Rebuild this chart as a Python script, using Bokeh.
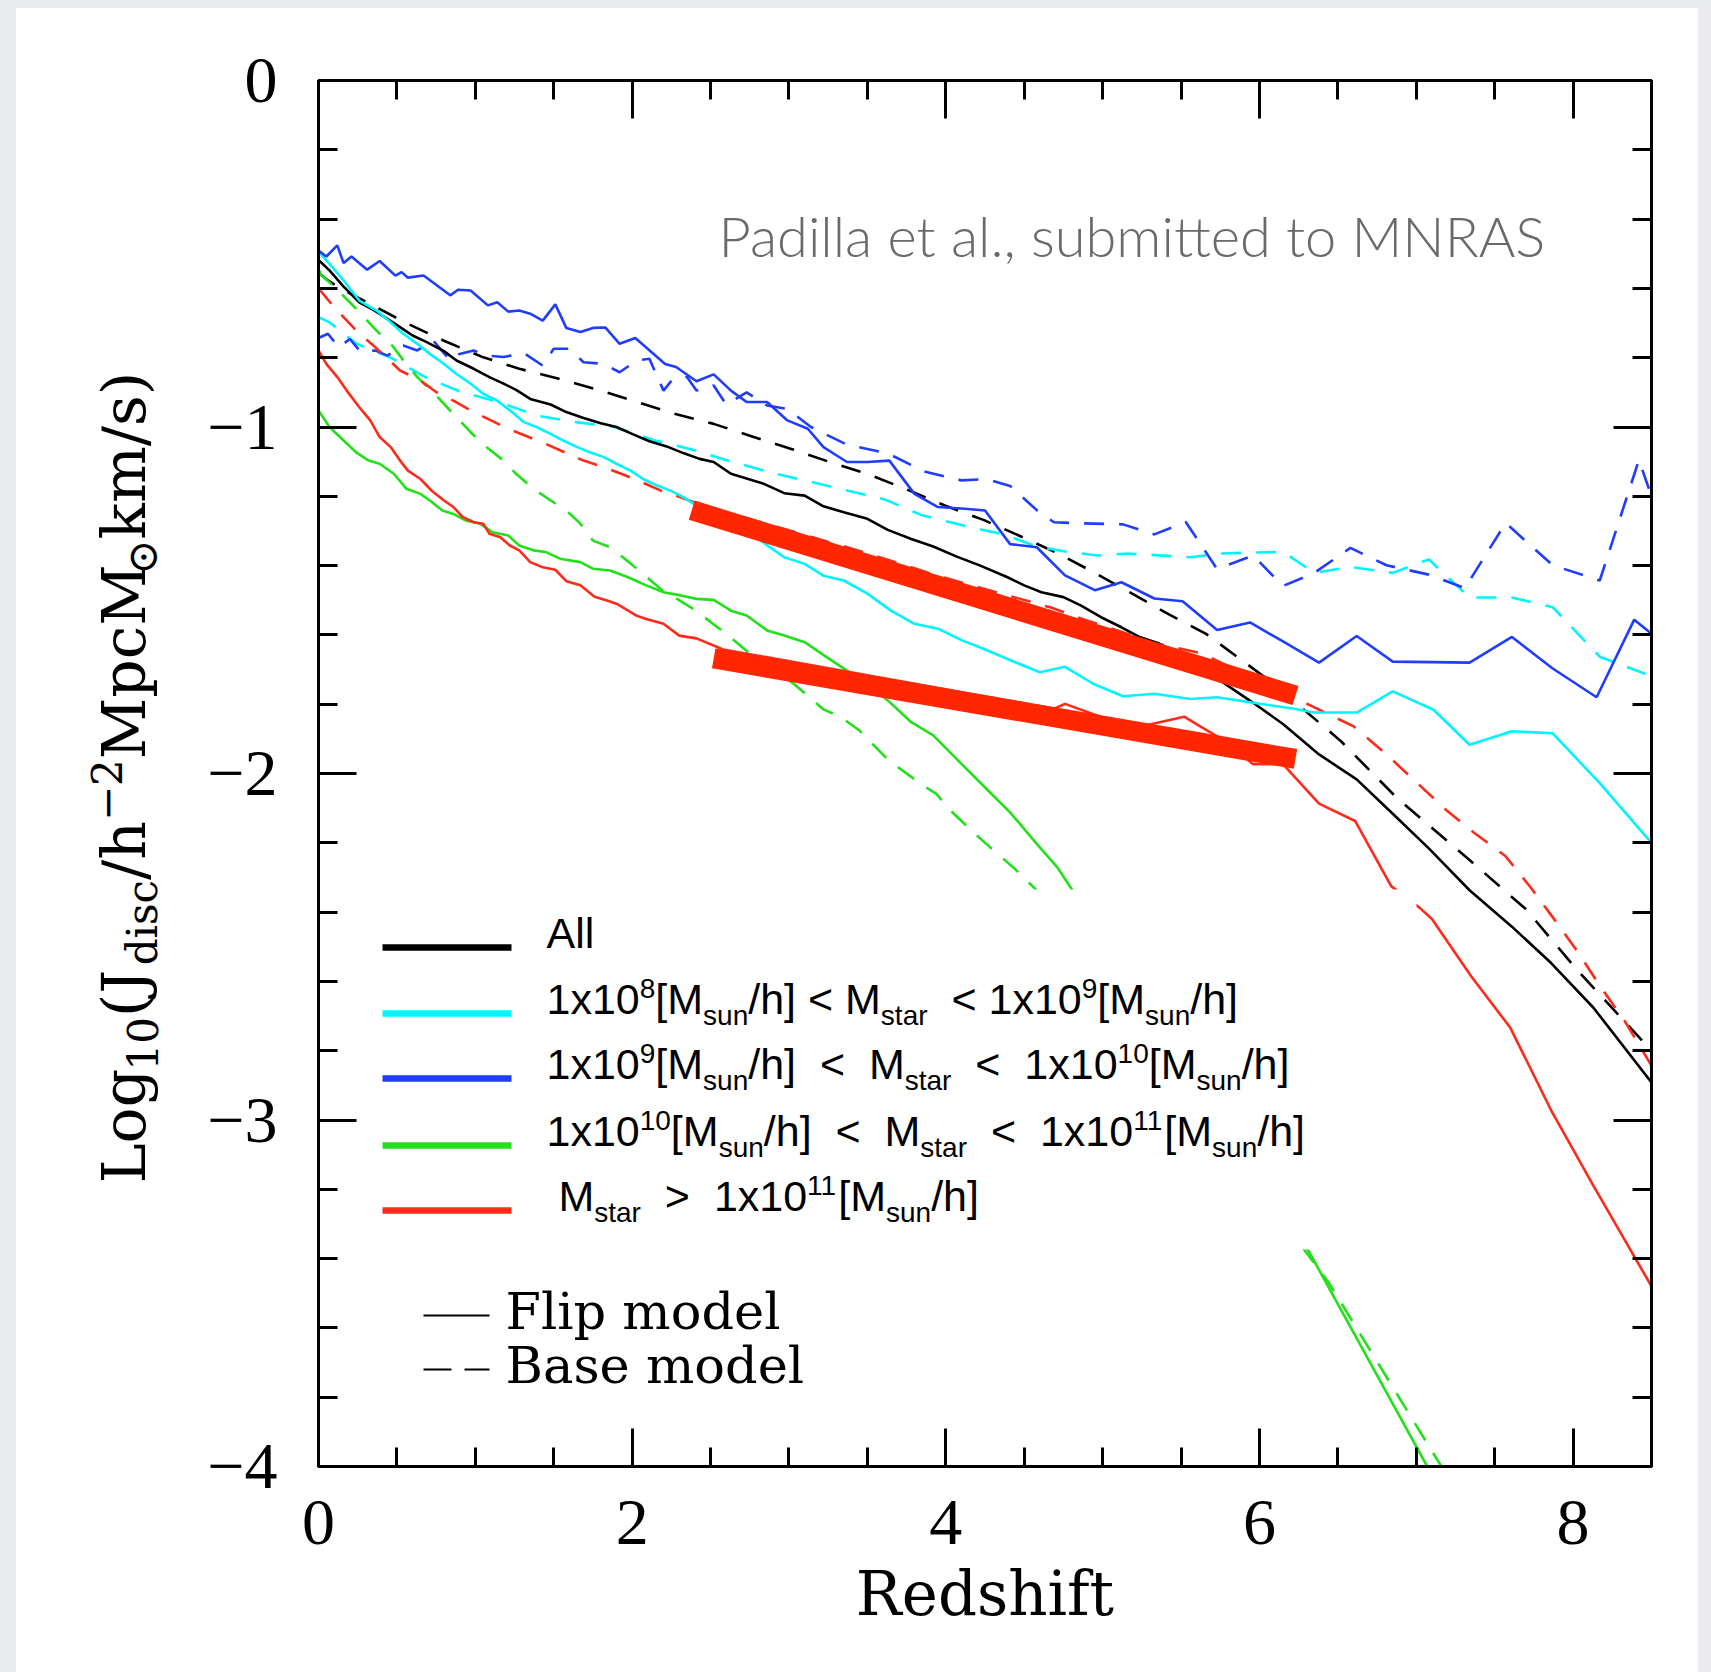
from bokeh.plotting import figure
from bokeh.models import Range1d, LinearAxis, SingleIntervalTicker, CustomJSTickFormatter, Label
from bokeh.layouts import column, row
from bokeh.embed import file_html
from bokeh.resources import INLINE

# ---------------- data: (redshift, log10 J_disc) ----------------
ALL_FLIP = [(0.00, -0.518), (0.07, -0.548), (0.16, -0.595), (0.26, -0.640), (0.35, -0.662), (0.43, -0.685),
            (0.52, -0.712), (0.60, -0.736), (0.69, -0.755), (0.80, -0.781), (0.88, -0.808), (0.99, -0.832),
            (1.09, -0.856), (1.18, -0.875), (1.26, -0.893), (1.35, -0.919), (1.48, -0.935), (1.58, -0.957),
            (1.69, -0.974), (1.80, -0.989), (1.90, -1.000), (2.01, -1.022), (2.11, -1.041), (2.22, -1.056),
            (2.33, -1.076), (2.43, -1.092), (2.52, -1.101), (2.63, -1.135), (2.84, -1.164), (2.97, -1.191),
            (3.10, -1.198), (3.22, -1.229), (3.35, -1.246), (3.50, -1.265), (3.63, -1.297), (3.78, -1.323),
            (3.92, -1.345), (4.07, -1.374), (4.22, -1.400), (4.39, -1.433), (4.50, -1.457), (4.61, -1.477),
            (4.75, -1.491), (4.86, -1.515), (4.99, -1.549), (5.12, -1.578), (5.24, -1.607), (5.36, -1.625),
            (5.56, -1.674), (5.76, -1.735), (5.96, -1.796), (6.15, -1.857), (6.38, -1.945), (6.62, -2.017),
            (6.85, -2.116), (7.08, -2.216), (7.34, -2.337), (7.61, -2.442), (7.86, -2.547), (8.13, -2.676),
            (8.50, -2.892)]
ALL_BASE = [(0.00, -0.555), (0.06, -0.577), (0.16, -0.605), (0.56, -0.700), (0.80, -0.751), (1.04, -0.797),
            (1.28, -0.832), (1.52, -0.859), (1.77, -0.891), (2.02, -0.926), (2.27, -0.962), (2.52, -0.991),
            (2.77, -1.028), (3.02, -1.064), (3.26, -1.101), (3.51, -1.137), (3.75, -1.180), (3.99, -1.226),
            (4.24, -1.268), (4.49, -1.318), (4.72, -1.366), (4.95, -1.421), (5.18, -1.479), (5.42, -1.540),
            (5.66, -1.597), (6.09, -1.741), (6.52, -1.907), (6.88, -2.072), (7.31, -2.238), (7.70, -2.392),
            (8.03, -2.569), (8.50, -2.800)]
M8_FLIP = [(0.00, -0.493), (0.07, -0.529), (0.16, -0.577), (0.26, -0.635), (0.37, -0.664), (0.46, -0.698),
           (0.54, -0.731), (0.63, -0.760), (0.71, -0.789), (0.80, -0.818), (0.88, -0.847), (0.97, -0.875),
           (1.05, -0.904), (1.14, -0.924), (1.22, -0.952), (1.31, -0.986), (1.39, -1.000), (1.48, -1.020),
           (1.56, -1.039), (1.65, -1.058), (1.73, -1.073), (1.82, -1.087), (1.90, -1.106), (1.99, -1.126),
           (2.07, -1.150), (2.16, -1.169), (2.24, -1.183), (2.33, -1.203), (2.41, -1.227), (2.82, -1.328),
           (2.97, -1.376), (3.10, -1.395), (3.22, -1.429), (3.35, -1.443), (3.50, -1.481), (3.65, -1.530),
           (3.80, -1.568), (3.95, -1.582), (4.10, -1.615), (4.24, -1.640), (4.39, -1.669), (4.60, -1.708),
           (4.76, -1.692), (4.94, -1.741), (5.13, -1.777), (5.33, -1.770), (5.56, -1.785), (5.73, -1.780),
           (5.96, -1.796), (6.22, -1.813), (6.35, -1.824), (6.62, -1.824), (6.85, -1.763), (7.11, -1.816),
           (7.34, -1.917), (7.61, -1.878), (7.87, -1.884), (8.17, -2.028), (8.50, -2.200)]
M8_BASE = [(0.00, -0.683), (0.07, -0.698), (0.24, -0.759), (0.47, -0.802), (0.69, -0.858), (0.91, -0.899),
           (1.15, -0.928), (1.39, -0.967), (1.64, -0.986), (1.88, -0.999), (2.14, -1.038), (2.39, -1.066),
           (2.62, -1.098), (2.87, -1.130), (3.12, -1.156), (3.37, -1.183), (3.61, -1.209), (3.85, -1.255),
           (4.10, -1.283), (4.37, -1.310), (4.58, -1.345), (4.77, -1.360), (4.97, -1.371), (5.16, -1.365),
           (5.56, -1.376), (5.76, -1.365), (6.15, -1.360), (6.35, -1.421), (6.58, -1.404), (6.85, -1.421),
           (7.08, -1.382), (7.34, -1.492), (7.61, -1.492), (7.87, -1.520), (8.17, -1.663), (8.50, -1.719)]
M9_FLIP = [(0.00, -0.491), (0.05, -0.508), (0.12, -0.476), (0.16, -0.527), (0.21, -0.508), (0.31, -0.546),
           (0.39, -0.521), (0.49, -0.563), (0.53, -0.553), (0.57, -0.569), (0.67, -0.563), (0.84, -0.620),
           (0.89, -0.604), (0.97, -0.606), (1.08, -0.649), (1.14, -0.640), (1.21, -0.667), (1.28, -0.664),
           (1.35, -0.673), (1.43, -0.693), (1.51, -0.646), (1.58, -0.714), (1.67, -0.726), (1.75, -0.714),
           (1.83, -0.713), (1.92, -0.760), (2.02, -0.743), (2.21, -0.818), (2.28, -0.827), (2.41, -0.868),
           (2.52, -0.848), (2.63, -0.895), (2.73, -0.928), (2.86, -0.928), (2.99, -0.981), (3.12, -1.005),
           (3.22, -1.058), (3.37, -1.101), (3.50, -1.101), (3.64, -1.097), (3.80, -1.193), (3.95, -1.231),
           (4.12, -1.236), (4.25, -1.241), (4.41, -1.338), (4.58, -1.347), (4.76, -1.428), (4.95, -1.471),
           (5.12, -1.448), (5.33, -1.495), (5.51, -1.503), (5.73, -1.586), (5.94, -1.564), (6.15, -1.619),
           (6.38, -1.680), (6.62, -1.603), (6.85, -1.677), (7.34, -1.680), (7.61, -1.606), (7.87, -1.697),
           (8.15, -1.780), (8.39, -1.556), (8.50, -1.597)]
M9_BASE = [(0.00, -0.743), (0.06, -0.731), (0.13, -0.770), (0.20, -0.746), (0.27, -0.784), (0.36, -0.779),
           (0.44, -0.794), (0.54, -0.765), (0.63, -0.779), (0.73, -0.750), (0.84, -0.808), (0.90, -0.789),
           (0.99, -0.779), (1.07, -0.794), (1.18, -0.798), (1.31, -0.787), (1.43, -0.823), (1.50, -0.774),
           (1.60, -0.774), (1.69, -0.813), (1.82, -0.818), (1.92, -0.842), (2.03, -0.808), (2.11, -0.803),
           (2.20, -0.895), (2.26, -0.861), (2.35, -0.856), (2.41, -0.895), (2.52, -0.880), (2.60, -0.935),
           (2.73, -0.900), (2.86, -0.938), (2.99, -0.948), (3.14, -1.000), (3.37, -1.051), (3.63, -1.076),
           (3.86, -1.128), (4.10, -1.154), (4.26, -1.150), (4.41, -1.170), (4.58, -1.240), (4.69, -1.275),
           (4.86, -1.278), (5.13, -1.281), (5.33, -1.310), (5.53, -1.274), (5.73, -1.410), (5.96, -1.371),
           (6.15, -1.459), (6.35, -1.421), (6.58, -1.349), (6.81, -1.399), (7.08, -1.426), (7.31, -1.465),
           (7.57, -1.277), (7.87, -1.399), (8.17, -1.443), (8.42, -1.095), (8.50, -1.200)]
M10_FLIP = [(0.00, -0.952), (0.07, -1.000), (0.16, -1.039), (0.24, -1.073), (0.32, -1.097), (0.39, -1.106),
            (0.48, -1.135), (0.56, -1.178), (0.65, -1.193), (0.71, -1.212), (0.79, -1.241), (0.86, -1.251),
            (0.94, -1.270), (1.03, -1.279), (1.11, -1.304), (1.21, -1.313), (1.28, -1.342), (1.37, -1.356),
            (1.45, -1.361), (1.54, -1.380), (1.67, -1.390), (1.75, -1.409), (1.86, -1.414), (1.97, -1.433),
            (2.09, -1.457), (2.20, -1.477), (2.31, -1.486), (2.41, -1.496), (2.52, -1.499), (2.63, -1.530),
            (2.73, -1.544), (2.86, -1.587), (2.97, -1.602), (3.10, -1.621), (3.24, -1.664), (3.37, -1.703),
            (3.50, -1.741), (3.63, -1.789), (3.78, -1.852), (3.92, -1.890), (4.10, -1.972), (4.27, -2.049),
            (4.41, -2.112), (4.58, -2.203), (4.71, -2.270), (6.31, -3.375), (7.07, -4.000)]
M10_BASE = [(0.00, -0.545), (0.02, -0.563), (0.08, -0.587), (0.20, -0.640), (0.29, -0.683), (0.37, -0.722),
            (0.47, -0.765), (0.55, -0.813), (0.63, -0.856), (0.73, -0.899), (0.82, -0.943), (0.90, -0.981),
            (0.97, -1.015), (1.07, -1.058), (1.18, -1.097), (1.26, -1.135), (1.37, -1.178), (1.48, -1.212),
            (1.58, -1.241), (1.67, -1.279), (1.75, -1.328), (1.86, -1.347), (1.98, -1.390), (2.18, -1.467),
            (2.39, -1.525), (2.60, -1.597), (2.79, -1.669), (3.03, -1.741), (3.22, -1.815), (3.33, -1.837),
            (3.45, -1.876), (3.63, -1.960), (3.84, -2.030), (3.94, -2.059), (4.03, -2.107), (4.22, -2.188),
            (4.44, -2.275), (4.57, -2.333), (6.44, -3.468), (7.16, -4.000)]
M11_FLIP = [(0.00, -0.779), (0.05, -0.818), (0.12, -0.856), (0.18, -0.895), (0.26, -0.943), (0.33, -0.981),
            (0.39, -1.029), (0.46, -1.058), (0.52, -1.097), (0.57, -1.126), (0.65, -1.150), (0.72, -1.183),
            (0.80, -1.212), (0.86, -1.231), (0.92, -1.260), (0.99, -1.275), (1.05, -1.279), (1.09, -1.308),
            (1.16, -1.318), (1.22, -1.342), (1.28, -1.356), (1.35, -1.390), (1.43, -1.405), (1.51, -1.412),
            (1.58, -1.445), (1.67, -1.457), (1.76, -1.490), (1.84, -1.501), (1.90, -1.510), (2.03, -1.545),
            (2.09, -1.554), (2.20, -1.568), (2.30, -1.602), (2.41, -1.610), (2.58, -1.642), (4.69, -1.813),
            (4.76, -1.799), (4.99, -1.837), (5.23, -1.866), (5.52, -1.836), (5.63, -1.866), (5.76, -1.901),
            (5.96, -1.973), (6.15, -1.973), (6.38, -2.087), (6.61, -2.137), (6.84, -2.325), (7.02, -2.387),
            (7.10, -2.420), (7.35, -2.585), (7.60, -2.734), (7.86, -2.972), (8.13, -3.190), (8.50, -3.480)]
M11_BASE = [(0.00, -0.600), (0.09, -0.649), (0.17, -0.688), (0.25, -0.726), (0.35, -0.765), (0.44, -0.803),
            (0.52, -0.837), (0.65, -0.866), (0.75, -0.899), (0.86, -0.924), (0.99, -0.957), (1.10, -0.981),
            (1.21, -1.005), (1.34, -1.029), (1.45, -1.049), (1.57, -1.073), (1.69, -1.097), (1.82, -1.116),
            (1.93, -1.135), (2.06, -1.159), (2.18, -1.183), (2.31, -1.203), (2.42, -1.222), (3.49, -1.363),
            (3.96, -1.431), (4.67, -1.521), (4.89, -1.557), (5.35, -1.625), (5.63, -1.653), (6.35, -1.809),
            (6.60, -1.864), (6.81, -1.945), (7.19, -2.105), (7.36, -2.168), (7.57, -2.239), (7.73, -2.329),
            (7.88, -2.421), (8.03, -2.515), (8.17, -2.612), (8.33, -2.715), (8.50, -2.843)]
# the two thick hand-drawn highlight strokes
HIGHLIGHT_UPPER = [(2.38, -1.240), (6.23, -1.775)]
HIGHLIGHT_LOWER = [(2.52, -1.668), (6.23, -1.958)]

LEGEND_LABELS = ["All",
                 "1x10^8[M_sun/h] < M_star  < 1x10^9[M_sun/h]",
                 "1x10^9[M_sun/h]  <  M_star  <  1x10^10[M_sun/h]",
                 "1x10^10[M_sun/h]  <  M_star  <  1x10^11[M_sun/h]",
                 " M_star  >  1x10^11[M_sun/h]"]
COLORS = ["#000000", "#00f4ff", "#1f3cff", "#22e01a", "#ff2a1a"]
FLIP_SERIES = [ALL_FLIP, M8_FLIP, M9_FLIP, M10_FLIP, M11_FLIP]
BASE_SERIES = [ALL_BASE, M8_BASE, M9_BASE, M10_BASE, M11_BASE]
MODEL_LABELS = ["Flip model", "Base model"]
X_LABEL = "Redshift"
CREDIT = "Padilla et al., submitted to MNRAS"

# ---------------- geometry (page pixels; the page origin is the top-left of the layout) ----------------
PAD_L, PAD_T, PAD_R = 16, 8, 13
LW = 170                                  # width of the strip holding the rotated y label
FIG_H = 1664
P_W = 1711 - PAD_L - PAD_R - LW           # main figure width
P_X0 = PAD_L + LW                          # main figure left edge on the page
FRAME_PX_L, FRAME_PX_T = 318, 80          # frame top-left on the page
FRAME_W, FRAME_H = 1333, 1386
BORDER_T = FRAME_PX_T - PAD_T
BORDER_B = FIG_H - BORDER_T - FRAME_H
XMIN, XMAX, YMIN, YMAX = 0.0, 8.5, -4.0, 0.0
DASH = "20 15"
BASE_FIX = 0.40     # svg text sits this many em below the requested alphabetic baseline


def dx(px):
    return XMIN + (px - FRAME_PX_L) / FRAME_W * (XMAX - XMIN)


def dy(py):
    return YMAX - (py - FRAME_PX_T) / FRAME_H * (YMAX - YMIN)


p = figure(frame_width=FRAME_W, frame_height=FRAME_H,
           min_border_left=FRAME_PX_L - P_X0, min_border_top=BORDER_T,
           min_border_right=P_W - (FRAME_PX_L - P_X0) - FRAME_W,
           min_border_bottom=BORDER_B,
           x_range=Range1d(XMIN, XMAX), y_range=Range1d(YMIN, YMAX),
           output_backend="svg", toolbar_location=None,
           background_fill_color="white", border_fill_color="white")
p.grid.visible = False
p.outline_line_color = "black"
p.outline_line_width = 3


def style_axis(ax):
    ax.axis_line_width = 3
    ax.axis_line_color = "black"
    ax.major_tick_in = 38
    ax.major_tick_out = 0
    ax.minor_tick_in = 19
    ax.minor_tick_out = 0
    ax.major_tick_line_width = 3
    ax.minor_tick_line_width = 3
    ax.major_tick_line_color = "black"
    ax.minor_tick_line_color = "black"


xa = p.xaxis[0]
ya = p.yaxis[0]
xa.ticker = SingleIntervalTicker(interval=2, num_minor_ticks=4)
ya.ticker = SingleIntervalTicker(interval=1, num_minor_ticks=5)
ya.formatter = CustomJSTickFormatter(code="return tick == 0 ? '0' : '\u2212' + Math.abs(tick);")
for ax in (xa, ya):
    style_axis(ax)
    ax.major_label_text_font = "Liberation Serif"
    ax.major_label_text_font_size = "66px"
    ax.major_label_text_color = "black"
xa.major_label_standoff = 34
ya.major_label_standoff = 41
xa.axis_label = X_LABEL
xa.axis_label_text_font = "DejaVu Serif"
xa.axis_label_text_font_size = "61px"
xa.axis_label_text_font_style = "normal"
xa.axis_label_text_color = "black"
xa.axis_label_standoff = 11

top = LinearAxis(ticker=SingleIntervalTicker(interval=2, num_minor_ticks=4),
                 formatter=CustomJSTickFormatter(code="return '';"), major_label_standoff=0)
right = LinearAxis(ticker=SingleIntervalTicker(interval=1, num_minor_ticks=5),
                   formatter=CustomJSTickFormatter(code="return '';"), major_label_standoff=0)
style_axis(top)
style_axis(right)
p.add_layout(top, "above")
p.add_layout(right, "right")

# ---------------- curves ----------------
for series, col in zip(BASE_SERIES, COLORS):
    p.line([a for a, b in series], [b for a, b in series], line_color=col, line_width=2.6, line_dash=DASH)
for series, col in zip(FLIP_SERIES, COLORS):
    p.line([a for a, b in series], [b for a, b in series], line_color=col, line_width=2.6)

# white box behind the legend (the original blanks the curves there)
p.quad(left=[dx(318)], right=[dx(1416)], top=[dy(889)], bottom=[dy(1249)], fill_color="white", line_color=None)

for hl in (HIGHLIGHT_UPPER, HIGHLIGHT_LOWER):
    p.line([a for a, b in hl], [b for a, b in hl], line_color="#ff2600", line_width=20, line_cap="butt")

# ---------------- rich-text helper ----------------
ARIAL = {'1': .556, 'x': .5, '0': .556, '8': .556, '9': .556, '[': .278, ']': .278, 'M': .833, 's': .5,
         'u': .556, 'n': .556, '/': .278, 'h': .556, '<': .584, '>': .584, 't': .278, 'a': .556, 'r': .333,
         'A': .667, 'l': .222, ' ': .278}
DVS = {'L': .637, 'o': .602, 'g': .640, '1': .636, '0': .636, '(': .390, ')': .390, 'J': .472, 'd': .640,
       'i': .320, 's': .513, 'c': .560, '/': .337, 'h': .644, '\u2212': .838, '2': .636, 'M': .938, 'p': .640,
       '\u2299': .838, 'k': .607, 'm': .948, ' ': .318}


def parse(label):
    """'1x10^8[M_sun/h]' -> list of (text, kind); ^ / _ take the following word."""
    runs, i, buf = [], 0, ""
    stop = "[]/<> ^_"
    while i < len(label):
        ch = label[i]
        if ch in "^_":
            if buf:
                runs.append((buf, "n"))
                buf = ""
            j = i + 1
            while j < len(label) and label[j] not in stop:
                j += 1
            runs.append((label[i + 1:j], "sup" if ch == "^" else "sub"))
            i = j
        else:
            buf += ch
            i += 1
    if buf:
        runs.append((buf, "n"))
    return runs


def width(s, size, table):
    return sum(table.get(c, 0.6) for c in s) * size


def draw_runs(fig, runs, x, y, size, ssize, up, down, font, table, color="black", vertical=False):
    pos = 0.0
    for text, kind in runs:
        sz = size if kind == "n" else ssize
        shift = (up if kind == "sup" else (-down if kind == "sub" else 0)) + BASE_FIX * sz
        pieces = text.split(" ")
        for k, piece in enumerate(pieces):
            if piece:
                if vertical:
                    lab = Label(x=x, y=y, x_offset=-shift, y_offset=pos, angle=1.5707963267948966)
                else:
                    lab = Label(x=x, y=y, x_offset=pos, y_offset=shift)
                lab.text = piece
                lab.text_font = font
                lab.text_font_size = f"{sz:.1f}px"
                lab.text_color = color
                lab.text_align = "left"
                lab.text_baseline = "alphabetic"
                fig.add_layout(lab)
                pos += width(piece, sz, table)
            if k < len(pieces) - 1:
                pos += table[' '] * sz
    return pos


# ---------------- legend ----------------
ROW_Y = [950, 1016, 1081, 1148, 1213]
TEXT_X = 546
KEY_X = (382, 511)
for lab, col, ry in zip(LEGEND_LABELS, COLORS, ROW_Y):
    p.line([dx(KEY_X[0]), dx(KEY_X[1])], [dy(ry - 3), dy(ry - 3)], line_color=col, line_width=6.5)
    draw_runs(p, parse(lab), dx(TEXT_X), dy(ry), 43, 28, 17, 10, "Liberation Sans", ARIAL)

MODEL_Y = [1315, 1369]
for lab, dash, my in zip(MODEL_LABELS, ["solid", "28 13"], MODEL_Y):
    p.line([dx(423), dx(489)], [dy(my), dy(my)], line_color="black", line_width=2.2, line_dash=dash)
    ml = Label(x=dx(505), y=dy(my + 16), y_offset=BASE_FIX * 51, text=lab, text_font="DejaVu Serif",
               text_font_size="51px", text_color="black", text_align="left", text_baseline="alphabetic")
    p.add_layout(ml)

credit = Label(x=dx(718), y=dy(257), y_offset=BASE_FIX * 56, text=CREDIT, text_font="Lato Light, Lato",
               text_font_size="56px", text_color="#6a6a6a", text_align="left", text_baseline="alphabetic")
p.add_layout(credit)

# ---------------- y-axis label strip (rotated text with sub/superscripts) ----------------
# its frame is aligned with the main frame; data units are page pixels (y negated)
yl = figure(frame_width=LW, frame_height=FRAME_H,
            min_border_left=0, min_border_right=0, min_border_top=BORDER_T, min_border_bottom=BORDER_B,
            x_range=Range1d(PAD_L, PAD_L + LW), y_range=Range1d(-(FRAME_PX_T + FRAME_H), -FRAME_PX_T),
            x_axis_location=None, y_axis_location=None, output_backend="svg", toolbar_location=None,
            background_fill_color="white", border_fill_color="white")
yl.grid.visible = False
yl.outline_line_color = None

YL_RUNS = [("Log", "n"), ("10", "sub"), ("(J", "n"), ("disc", "sub"), ("/h", "n"), ("\u22122", "sup"),
           ("MpcM", "n"), ("\u2299", "sub"), ("km/s)", "n")]
YL_SIZE, YL_SCRIPT = 60, 42
YL_BASE_X, YL_CENTER_Y = 147, 777          # page pixels
total = sum(width(t, YL_SIZE if k == "n" else YL_SCRIPT, DVS) for t, k in YL_RUNS)
draw_runs(yl, YL_RUNS, YL_BASE_X, -(YL_CENTER_Y + total / 2), YL_SIZE, YL_SCRIPT,
          24, 12, "DejaVu Serif", DVS, vertical=True)

layout = column(row(yl, p, spacing=0, styles={"background-color": "white"}),
                styles={"background-color": "#e9eaee", "padding-left": f"{PAD_L}px",
                        "padding-top": f"{PAD_T}px", "padding-right": f"{PAD_R}px"})
open("out.html", "w").write(file_html(layout, INLINE))
